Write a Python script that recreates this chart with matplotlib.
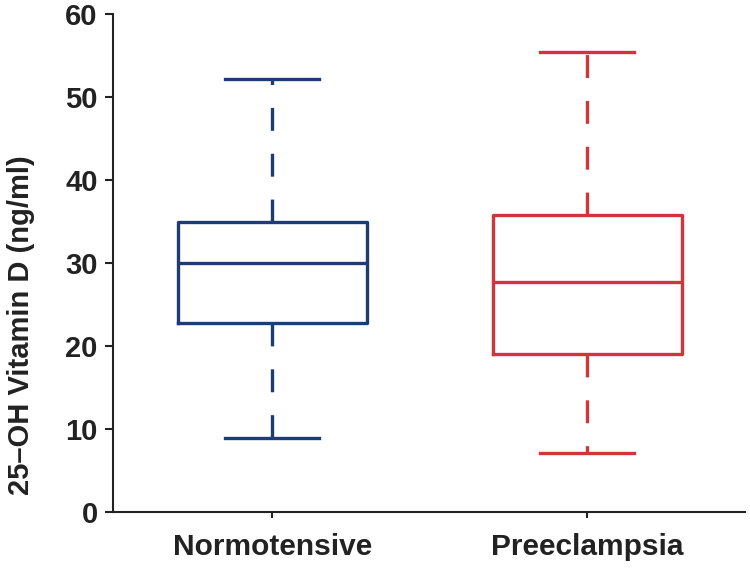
import matplotlib
matplotlib.use("Agg")
import matplotlib.pyplot as plt

plt.rcParams['font.family'] = ['Liberation Sans', 'DejaVu Sans']
plt.rcParams['lines.scale_dashes'] = False

# valeurs
groups = ['Normotensive', 'Preeclampsia']
whis_low = [8.9, 7.1]
q1 = [22.8, 19.0]
median = [30.0, 27.7]
q3 = [34.9, 35.8]
whis_high = [52.2, 55.4]
colors = ['#1f3c70', '#d1343a']

stats = []
for i, g in enumerate(groups):
    stats.append({'label': g, 'whislo': whis_low[i], 'q1': q1[i], 'med': median[i],
                  'q3': q3[i], 'whishi': whis_high[i], 'fliers': []})

fig = plt.figure(figsize=(7.5, 5.69), dpi=100)
ax = fig.add_axes([0.1507, 0.1002, 0.8423, 0.8752])

for i, s in enumerate(stats):
    c = colors[i]
    ax.bxp([s], positions=[i + 1], widths=0.6, showfliers=False,
           boxprops=dict(color=c, linewidth=2.4),
           medianprops=dict(color=c, linewidth=2.4),
           whiskerprops=dict(color=c, linewidth=2.4, linestyle=(0, (16.5, 16.5))),
           capprops=dict(color=c, linewidth=2.4),
           capwidths=0.3)

ax.set_xlim(0.495, 2.5)
ax.set_ylim(0, 60)
ax.set_yticks([0, 10, 20, 30, 40, 50, 60])
ax.set_xticks([1, 2])
ax.set_xticklabels(groups)
ax.set_ylabel('25–OH Vitamin D (ng/ml)', fontsize=21, fontweight='bold', color='#222222')
ax.yaxis.set_label_coords(-0.123, 0.375)

for sp in ['top', 'right']:
    ax.spines[sp].set_visible(False)
for sp in ['left', 'bottom']:
    ax.spines[sp].set_linewidth(1.5)
    ax.spines[sp].set_color('#222222')

ax.tick_params(axis='y', length=6, width=1.5, colors='#222222', labelsize=21, pad=5)
ax.tick_params(axis='x', length=4, width=1.5, colors='#222222', labelsize=21.5, pad=11)
for lab in ax.get_xticklabels() + ax.get_yticklabels():
    lab.set_fontweight('bold')

fig.savefig('out.png', dpi=100)
